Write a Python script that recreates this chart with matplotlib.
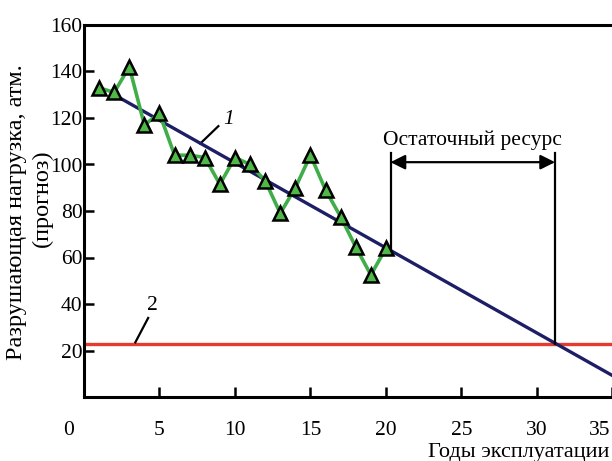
import matplotlib
matplotlib.use("Agg")
import matplotlib.pyplot as plt
import matplotlib.transforms as mtransforms

# ---- data ----
years = [1, 2, 3, 4, 5, 6, 7, 8, 9, 10, 11, 12, 13, 14, 15, 16, 17, 18, 19, 20]
load = [133, 131, 142, 117, 122, 104, 104, 103, 91.5, 103, 100, 93, 79, 90, 104, 89, 77.5, 64.5, 52.5, 64]
trend_x = [2, 35.5]
trend_y = [130, 7.4]
limit_level = 23
now_year = 20.3
end_year = 31.2
bracket_top = 105
arrow_level = 101
xticks = [0, 5, 10, 15, 20, 25, 30, 35]
xticklabels = ["0", "5", "10", "15", "20", "25", "30", "35"]
yticks = [20, 40, 60, 80, 100, 120, 140, 160]
yticklabels = ["20", "40", "60", "80", "100", "120", "140", "160"]

plt.rcParams["font.family"] = ["Liberation Serif", "DejaVu Serif"]

W, H = 612, 461
fig = plt.figure(figsize=(W / 100, H / 100), dpi=100)
ax = fig.add_axes([84 / W, 64 / H, (620 - 84) / W, (436 - 64) / H])
ax.set_xlim(0, 35.5)
ax.set_ylim(0, 160)

green = "#3fae49"
fill = "#4fb848"
navy = "#1e1e66"
red = "#e53b2e"

ax.axhline(limit_level, color=red, lw=2.4, zorder=2)
ax.plot(trend_x, trend_y, color=navy, lw=2.4, zorder=3, clip_on=False)
ax.plot(years, load, color=green, lw=2.6, zorder=4)
ax.plot(years, load, linestyle="none", marker="^", markersize=10,
        markerfacecolor=fill, markeredgecolor="black", markeredgewidth=1.8, zorder=5)

# residual-life bracket
slope = (trend_y[1] - trend_y[0]) / (trend_x[1] - trend_x[0])
y_now = trend_y[0] + slope * (now_year - trend_x[0])
ax.plot([now_year, now_year], [y_now, bracket_top], color="black", lw=1.6, zorder=3)
ax.plot([end_year, end_year], [limit_level, bracket_top], color="black", lw=1.6, zorder=3)
ax.annotate("", xy=(end_year, arrow_level), xytext=(now_year, arrow_level),
            arrowprops=dict(arrowstyle="<|-|>", color="black", lw=1.6,
                            mutation_scale=22, shrinkA=0, shrinkB=0))
ax.text((now_year + end_year) / 2, 110.5, "Остаточный ресурс", ha="center", va="center",
        fontsize=15.5)

# curve labels
ax.plot([7.7, 8.9], [109, 116.5], color="black", lw=1.6)
ax.text(9.6, 119.5, "1", fontsize=15.5, style="italic", ha="center", va="center")
ax.plot([3.4, 4.25], [23.5, 34], color="black", lw=1.6)
ax.text(4.5, 39.5, "2", fontsize=15.5, ha="center", va="center")

# axes styling
ax.spines["right"].set_visible(False)
for s in ["left", "bottom", "top"]:
    ax.spines[s].set_linewidth(2.2)

ax.set_xticks(xticks)
ax.set_xticklabels(xticklabels)
ax.set_yticks(yticks)
ax.set_yticklabels(yticklabels)
ax.tick_params(axis="x", direction="in", length=7, width=1.8, pad=17, labelsize=15.5)
ax.tick_params(axis="y", direction="in", length=7, width=1.8, pad=1, labelsize=15.5)
# origin label sits left of the corner
xl = ax.get_xticklabels()
xl[0].set_transform(xl[0].get_transform() + mtransforms.ScaledTranslation(-15 / 100, 0, fig.dpi_scale_trans))
# last label kept inside the figure edge
xl[-1].set_horizontalalignment("right")
xl[-1].set_transform(xl[-1].get_transform() + mtransforms.ScaledTranslation(-2 / 100, 0, fig.dpi_scale_trans))

fig.text(17 / W, 1 - 212 / H, "Разрушающая нагрузка, атм.", rotation=90,
         ha="center", va="center", fontsize=17.5)
fig.text(42 / W, 1 - 198 / H, "(прогноз)", rotation=90,
         ha="center", va="center", fontsize=17.5)
fig.text(609 / W, 1 - 452 / H, "Годы эксплуатации", ha="right", va="center", fontsize=16)

fig.savefig("out.png", dpi=100)
